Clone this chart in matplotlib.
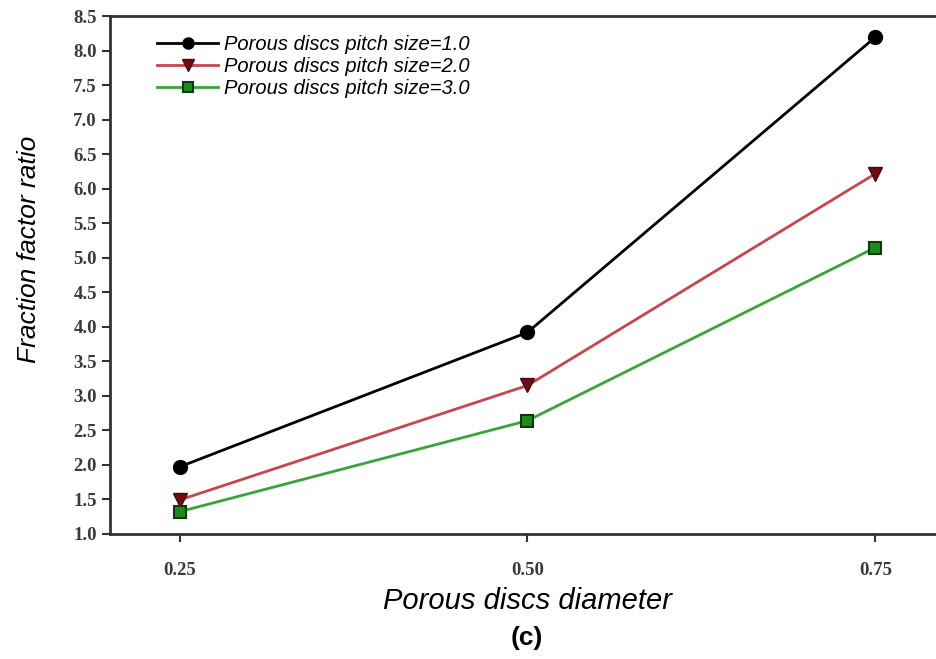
import matplotlib
matplotlib.use('Agg')
import matplotlib.pyplot as plt

diameter = [0.25, 0.50, 0.75]
pitch_1 = [1.97, 3.92, 8.2]
pitch_2 = [1.49, 3.15, 6.22]
pitch_3 = [1.32, 2.64, 5.15]
labels = ['Porous discs pitch size=1.0', 'Porous discs pitch size=2.0', 'Porous discs pitch size=3.0']
yticks = [1.0 + 0.5 * k for k in range(16)]

fig = plt.figure(figsize=(9.36, 6.59), dpi=100)
ax = fig.add_axes([0.1175, 0.19, 0.892, 0.785])

ax.plot(diameter, pitch_1, color='black', lw=2, marker='o', ms=10,
        mfc='black', mec='black', label=labels[0])
ax.plot(diameter, pitch_2, color='#c8444e', lw=2, marker='v', ms=10,
        mfc='#6e0e14', mec='#4a0a0a', label=labels[1])
ax.plot(diameter, pitch_3, color='#3aa43a', lw=2, marker='s', ms=9,
        mfc='#1f8a1f', mec='#0c3a0c', mew=1.5, label=labels[2])

ax.set_xlim(0.2, 0.8)
ax.set_ylim(1.0, 8.5)
ax.set_xticks(diameter)
ax.set_xticklabels(['0.25', '0.50', '0.75'])
ax.set_yticks(yticks)
ax.set_yticklabels([f'{v:.1f}' for v in yticks])

for s in ['left', 'bottom', 'top']:
    ax.spines[s].set_linewidth(2)
    ax.spines[s].set_color('#333333')
ax.spines['right'].set_visible(False)

ax.tick_params(axis='both', direction='out', length=6, width=1.5, color='#333333',
               labelsize=13.5, top=False, right=False)
ax.tick_params(axis='x', pad=14)
for t in ax.get_xticklabels() + ax.get_yticklabels():
    t.set_fontfamily('Liberation Serif')
    t.set_fontweight('bold')
    t.set_color('#3a3a3a')

ax.set_xlabel('Porous discs diameter', fontsize=21, style='italic',
              family='Liberation Sans', labelpad=6)
ax.set_ylabel('Fraction factor ratio', fontsize=19, style='italic',
              family='Liberation Sans')
ax.yaxis.set_label_coords(-0.083, 0.55)

leg = ax.legend(loc='upper left', bbox_to_anchor=(0.035, 1.0), frameon=False,
                prop={'family': 'Liberation Sans', 'style': 'italic', 'size': 14.5},
                handlelength=3.0, handletextpad=0.3, labelspacing=0.15,
                markerscale=0.8)

fig.text(0.563, 0.022, '(c)', fontsize=19, fontweight='bold',
         family='Liberation Sans', ha='center')

fig.savefig('out.png', dpi=100)
